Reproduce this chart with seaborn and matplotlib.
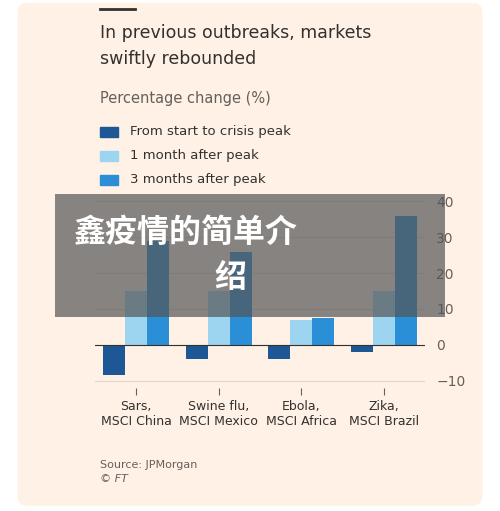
import pandas as pd
import matplotlib.pyplot as plt
import seaborn as sns
from matplotlib.patches import Rectangle, FancyBboxPatch

markets = ["Sars,\nMSCI China", "Swine flu,\nMSCI Mexico", "Ebola,\nMSCI Africa", "Zika,\nMSCI Brazil"]
series = ["From start to crisis peak", "1 month after peak", "3 months after peak"]
start_to_peak = [-8.5, -4, -4, -2]
one_month = [15, 15, 7, 15]
three_months = [29, 26, 7.5, 36]
colors = ["#1d5795", "#9dd4f0", "#2a8fd6"]

rows = []
for i, m in enumerate(markets):
    for s, vals in zip(series, [start_to_peak, one_month, three_months]):
        rows.append({"market": m, "series": s, "value": vals[i]})
df = pd.DataFrame(rows)

bg = "#fff1e5"
fig = plt.figure(figsize=(5, 5.11), dpi=100, facecolor="white")
fig.patches.append(FancyBboxPatch((0.035, 0.01), 0.93, 0.985, boxstyle="round,pad=0,rounding_size=0.02",
                                  transform=fig.transFigure, facecolor=bg, edgecolor="none", zorder=-1))
ax = fig.add_axes([0.19, 0.241, 0.66, 0.379])
ax.set_facecolor(bg)
sns.barplot(data=df, x="market", y="value", hue="series", palette=colors, ax=ax,
            width=0.8, saturation=1, legend=False, zorder=3)
ax.set_ylim(-12, 42)
ax.set_yticks([-10, 0, 10, 20, 30, 40])
ax.yaxis.tick_right()
ax.tick_params(axis="y", length=0, labelsize=10, colors="#66605c", pad=8)
ax.tick_params(axis="x", length=5, labelsize=9, colors="#33302e", color="#66605c")
ax.grid(axis="y", color="#e0d7cf", lw=0.8, zorder=0)
ax.axhline(0, color="#33302e", lw=0.8, zorder=4)
for s in ax.spines.values():
    s.set_visible(False)
ax.set_xlabel("")
ax.set_ylabel("")

fig.add_artist(plt.Line2D([0.2, 0.27], [0.983, 0.983], color="#33302e", lw=2))
fig.text(0.2, 0.935, "In previous outbreaks, markets", fontsize=12.5, color="#33302e", va="center")
fig.text(0.2, 0.885, "swiftly rebounded", fontsize=12.5, color="#33302e", va="center")
fig.text(0.2, 0.808, "Percentage change (%)", fontsize=10.5, color="#66605c", va="center")
for k, (s, c) in enumerate(zip(series, colors)):
    y = 0.742 - k * 0.047
    fig.patches.append(Rectangle((0.2, y - 0.01), 0.036, 0.02, transform=fig.transFigure, color=c))
    fig.text(0.26, y, s, fontsize=9.5, color="#33302e", va="center")
fig.text(0.2, 0.09, "Source: JPMorgan", fontsize=8, color="#66605c", va="center")
fig.text(0.2, 0.062, "© FT", fontsize=8, color="#66605c", va="center", style="italic")

fig.patches.append(Rectangle((0.11, 0.38), 0.78, 0.24, transform=fig.transFigure,
                             facecolor="#555555", alpha=0.7, edgecolor="none", zorder=10))
fig.text(0.148, 0.545, "鑫疫情的简单介", fontsize=23, color="white", weight="bold", ha="left",
         va="center", family=["Noto Sans CJK SC", "DejaVu Sans"], zorder=11)
fig.text(0.46, 0.455, "绍", fontsize=23, color="white", weight="bold", ha="center",
         va="center", family=["Noto Sans CJK SC", "DejaVu Sans"], zorder=11)

fig.savefig("out.png", dpi=100, facecolor="white")
